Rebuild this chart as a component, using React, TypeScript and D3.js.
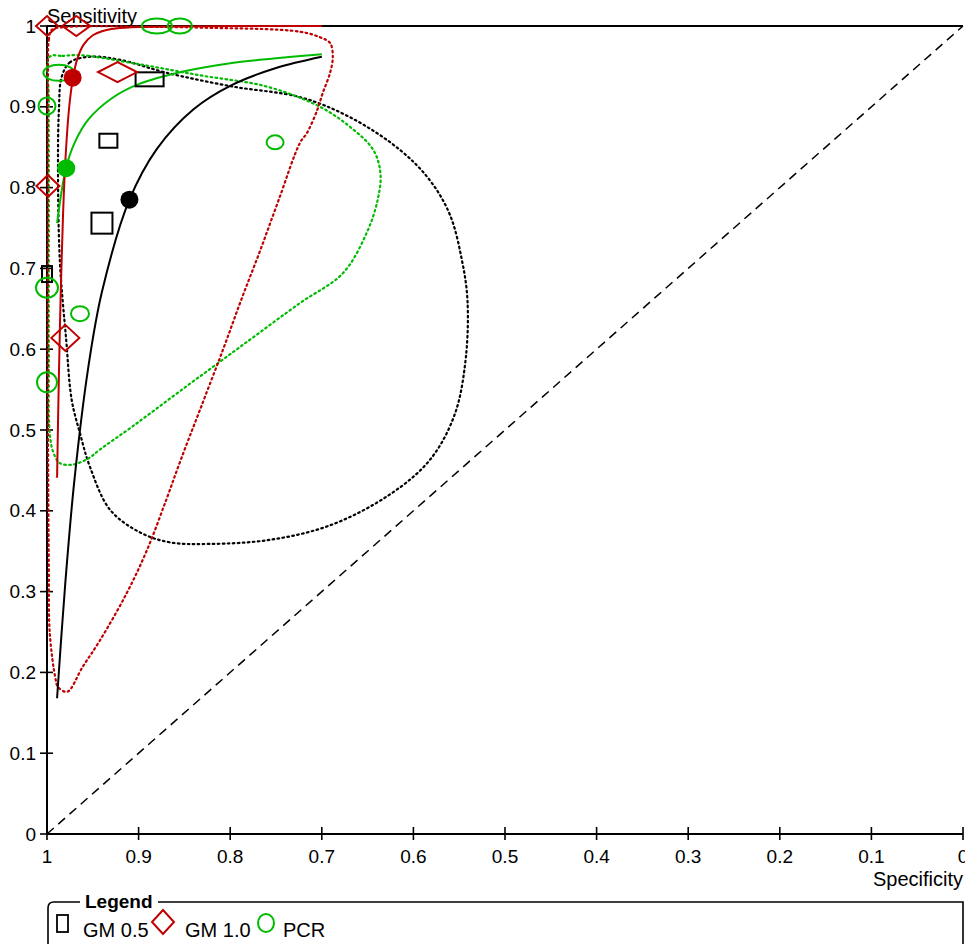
import React from 'react';
import * as d3 from 'd3';

// [specificity, sensitivity]
const gm05Studies = [[0.888, 0.934], [0.933, 0.858], [0.940, 0.756], [1.0, 0.693]];
const gm05Sizes = [[28, 14], [18, 14], [21, 21], [10, 16]];
const gm10Studies = [[1.0, 1.0], [0.968, 1.0], [0.923, 0.943], [0.999, 0.802], [0.980, 0.614]];
const gm10Sizes = [[22, 20], [28, 20], [39, 20], [23, 22], [28, 26]];
const pcrStudies = [[0.880, 1.0], [0.855, 1.0], [0.987, 0.942], [1.0, 0.901], [0.751, 0.856], [1.0, 0.676], [0.964, 0.644], [1.0, 0.559]];
const pcrSizes = [[30, 15], [24, 15], [31, 16], [17, 17], [17, 14], [22, 20], [18, 15], [20, 20]];

const summaryPoints = [[0.910, 0.785], [0.972, 0.936], [0.979, 0.824]];

const gm05Curve = [[0.989, 0.168], [0.985, 0.234], [0.98, 0.311], [0.97, 0.439], [0.955, 0.577], [0.94, 0.671], [0.91, 0.785], [0.88, 0.848], [0.84, 0.897], [0.80, 0.926], [0.75, 0.948], [0.70, 0.962]];
const gm10Curve = [[0.989, 0.441], [0.988, 0.507], [0.987, 0.568], [0.985, 0.670], [0.9825, 0.766], [0.980, 0.832], [0.976, 0.897], [0.9716, 0.936], [0.967, 0.959], [0.96, 0.977], [0.95, 0.9886], [0.94, 0.9936], [0.925, 0.9969], [0.90, 0.9988], [0.80, 0.9999], [0.70, 1.0]];
const pcrCurve = [[0.989, 0.756], [0.9793, 0.824], [0.97, 0.855], [0.955, 0.884], [0.93, 0.910], [0.90, 0.928], [0.85, 0.944], [0.80, 0.954], [0.75, 0.960], [0.70, 0.965]];

const gm05Region = [[0.984, 0.937], [0.975, 0.955], [0.953, 0.962], [0.920, 0.958], [0.869, 0.942], [0.797, 0.925], [0.724, 0.912], [0.669, 0.887], [0.615, 0.847], [0.582, 0.809], [0.560, 0.766], [0.547, 0.710], [0.541, 0.661], [0.543, 0.587], [0.555, 0.519], [0.582, 0.463], [0.626, 0.420], [0.691, 0.382], [0.757, 0.364], [0.822, 0.359], [0.866, 0.361], [0.898, 0.373], [0.931, 0.401], [0.953, 0.454], [0.964, 0.496], [0.973, 0.537], [0.979, 0.611], [0.986, 0.710], [0.988, 0.834], [0.987, 0.896]];
const gm10Region = [[0.999, 0.933], [0.998, 0.983], [0.995, 0.995], [0.975, 0.999], [0.888, 0.999], [0.833, 0.998], [0.724, 0.993], [0.702, 0.986], [0.691, 0.979], [0.688, 0.962], [0.691, 0.942], [0.699, 0.917], [0.705, 0.896], [0.716, 0.868], [0.724, 0.855], [0.747, 0.785], [0.767, 0.723], [0.788, 0.661], [0.808, 0.599], [0.833, 0.525], [0.854, 0.463], [0.870, 0.413], [0.891, 0.351], [0.913, 0.298], [0.942, 0.240], [0.961, 0.207], [0.978, 0.176], [0.988, 0.182], [0.991, 0.194], [0.997, 0.249], [0.998, 0.330], [0.999, 0.537], [0.999, 0.785]];
const pcrRegion = [[0.997, 0.962], [0.983, 0.963], [0.964, 0.964], [0.906, 0.954], [0.833, 0.939], [0.760, 0.925], [0.702, 0.900], [0.669, 0.875], [0.644, 0.847], [0.636, 0.818], [0.639, 0.785], [0.651, 0.744], [0.677, 0.694], [0.724, 0.657], [0.789, 0.603], [0.855, 0.548], [0.906, 0.505], [0.942, 0.476], [0.956, 0.464], [0.973, 0.457], [0.986, 0.459], [0.993, 0.472], [0.997, 0.496], [0.998, 0.599], [0.998, 0.785], [0.998, 0.908]];

const ticks = [1, 0.9, 0.8, 0.7, 0.6, 0.5, 0.4, 0.3, 0.2, 0.1, 0];
const legendItems = ['GM 0.5', 'GM 1.0', 'PCR'];

const BLACK = '#000000';
const RED = '#c00000';
const GREEN = '#00bb00';
const FONT = '"Liberation Sans", Arial, sans-serif';

export default function App() {
  const x = d3.scaleLinear().domain([1, 0]).range([47, 963]);
  const y = d3.scaleLinear().domain([0, 1]).range([834, 26]);

  const line = d3.line<number[]>().x(d => x(d[0])).y(d => y(d[1])).curve(d3.curveCatmullRom);
  const closed = d3.line<number[]>().x(d => x(d[0])).y(d => y(d[1])).curve(d3.curveCatmullRomClosed);

  const regions = [
    { pts: gm05Region, color: BLACK },
    { pts: pcrRegion, color: GREEN },
    { pts: gm10Region, color: RED },
  ];
  const curves = [
    { pts: gm05Curve, color: BLACK },
    { pts: pcrCurve, color: GREEN },
    { pts: gm10Curve, color: RED },
  ];
  const summaryColors = [BLACK, RED, GREEN];

  const diamond = (cx: number, cy: number, w: number, h: number) =>
    `M${cx},${cy - h / 2}L${cx + w / 2},${cy}L${cx},${cy + h / 2}L${cx - w / 2},${cy}Z`;

  const legendX = [57, 152, 257];
  const legendTextX = [83, 185, 283];

  return (
    <div style={{ position: 'absolute', left: 0, top: 0 }}>
      <svg width={965} height={944} style={{ display: 'block', background: '#fff' }}>
        {/* diagonal */}
        <line x1={x(1)} y1={y(0)} x2={x(0)} y2={y(1)} stroke="#000" strokeWidth={1.5} strokeDasharray="9 6" />

        {/* axes */}
        <line x1={x(1)} y1={y(0)} x2={x(1)} y2={y(1)} stroke="#000" strokeWidth={2} />
        <line x1={x(1)} y1={y(0)} x2={x(0)} y2={y(0)} stroke="#000" strokeWidth={2} />
        <line x1={x(1)} y1={y(1)} x2={x(0)} y2={y(1)} stroke="#000" strokeWidth={2} />
        {ticks.map(t => (
          <g key={'y' + t}>
            <line x1={x(1) - 7} x2={x(1) + 6} y1={y(t)} y2={y(t)} stroke="#000" strokeWidth={1.6} />
            <text x={36} y={y(t)} dy="0.35em" textAnchor="end" fontFamily={FONT} fontSize={19}>{t}</text>
          </g>
        ))}
        {ticks.map(t => (
          <g key={'x' + t}>
            <line x1={x(t)} x2={x(t)} y1={y(0) - 7} y2={y(0) + 6} stroke="#000" strokeWidth={1.6} />
            <text x={x(t)} y={863} textAnchor="middle" fontFamily={FONT} fontSize={19}>{t}</text>
          </g>
        ))}
        <text x={47} y={23} fontFamily={FONT} fontSize={20}>Sensitivity</text>
        <text x={963} y={886} textAnchor="end" fontFamily={FONT} fontSize={20}>Specificity</text>

        {/* confidence regions */}
        {regions.map((r, i) => (
          <path key={'r' + i} d={closed(r.pts) || ''} fill="none" stroke={r.color} strokeWidth={2.2}
            strokeDasharray="1.6 3.4" strokeLinecap="round" />
        ))}

        {/* SROC curves */}
        {curves.map((c, i) => (
          <path key={'c' + i} d={line(c.pts) || ''} fill="none" stroke={c.color} strokeWidth={2} />
        ))}

        {/* studies */}
        {gm05Studies.map((d, i) => (
          <rect key={'s' + i} x={x(d[0]) - gm05Sizes[i][0] / 2} y={y(d[1]) - gm05Sizes[i][1] / 2}
            width={gm05Sizes[i][0]} height={gm05Sizes[i][1]} fill="none" stroke={BLACK} strokeWidth={2} />
        ))}
        {gm10Studies.map((d, i) => (
          <path key={'d' + i} d={diamond(x(d[0]), y(d[1]), gm10Sizes[i][0], gm10Sizes[i][1])}
            fill="none" stroke={RED} strokeWidth={2} />
        ))}
        {pcrStudies.map((d, i) => (
          <ellipse key={'e' + i} cx={x(d[0])} cy={y(d[1])} rx={pcrSizes[i][0] / 2} ry={pcrSizes[i][1] / 2}
            fill="none" stroke={GREEN} strokeWidth={2} />
        ))}

        {/* summary points */}
        {summaryPoints.map((d, i) => (
          <circle key={'p' + i} cx={x(d[0])} cy={y(d[1])} r={9} fill={summaryColors[i]} />
        ))}

        {/* legend */}
        <path d="M80,902 H54 Q48,902 48,908 V960" fill="none" stroke="#000" strokeWidth={1.6} />
        <path d="M158,902 H963 V960" fill="none" stroke="#000" strokeWidth={1.6} />
        <text x={85} y={908} fontFamily={FONT} fontSize={19} fontWeight="bold">Legend</text>
        <rect x={legendX[0]} y={915} width={11} height={17} fill="none" stroke={BLACK} strokeWidth={1.8} />
        <path d={diamond(legendX[1] + 11, 922, 22, 24)} fill="none" stroke={RED} strokeWidth={2} />
        <ellipse cx={legendX[2] + 9} cy={923} rx={8} ry={9} fill="none" stroke={GREEN} strokeWidth={2} />
        {legendItems.map((t, i) => (
          <text key={t} x={legendTextX[i]} y={937} fontFamily={FONT} fontSize={20}>{t}</text>
        ))}
      </svg>
    </div>
  );
}
